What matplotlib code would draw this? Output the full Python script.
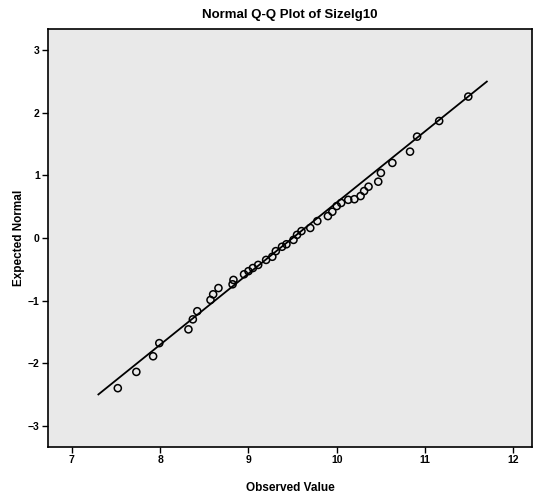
import numpy as np
import matplotlib
matplotlib.use("Agg")
import matplotlib.pyplot as plt

observed = [7.52, 7.73, 7.92, 7.99, 8.32, 8.37, 8.42, 8.57, 8.60, 8.66,
            8.82, 8.83, 8.95, 9.00, 9.05, 9.11, 9.20, 9.27, 9.31, 9.38,
            9.43, 9.51, 9.55, 9.60, 9.70, 9.78, 9.90, 9.95, 10.00, 10.05,
            10.13, 10.20, 10.27, 10.31, 10.36, 10.47, 10.50, 10.63, 10.83, 10.91,
            11.16, 11.49]
expected = [-2.40, -2.14, -1.89, -1.68, -1.46, -1.30, -1.17, -0.99, -0.90, -0.80,
            -0.74, -0.67, -0.58, -0.53, -0.48, -0.43, -0.35, -0.30, -0.21, -0.14,
            -0.10, -0.03, 0.05, 0.11, 0.16, 0.27, 0.35, 0.42, 0.51, 0.56,
            0.61, 0.62, 0.67, 0.75, 0.82, 0.90, 1.04, 1.20, 1.38, 1.62,
            1.87, 2.26]

# reference line (normal fit)
line_mean = 9.5
line_sd = 0.88
line_x = [7.30, 11.70]

xticks = [7, 8, 9, 10, 11, 12]
yticks = [-3, -2, -1, 0, 1, 2, 3]

plt.rcParams['font.family'] = ['Liberation Sans', 'DejaVu Sans']

fig = plt.figure(figsize=(5.34, 5.0), dpi=100)
ax = fig.add_axes([0.090, 0.106, 0.906, 0.836])
ax.set_facecolor('#e9e9e9')

lx = np.array(line_x)
ax.plot(lx, (lx - line_mean) / line_sd, color='black', lw=1.3, zorder=2)
ax.scatter(observed, expected, s=26, facecolors='none', edgecolors='black',
           linewidths=1.1, zorder=3)

ax.set_xlim(6.73, 12.21)
ax.set_ylim(-3.34, 3.34)
ax.set_xticks(xticks)
ax.set_yticks(yticks)
ax.tick_params(axis='both', direction='out', length=4, width=1, labelsize=7.5, pad=2)
for lab in ax.get_xticklabels() + ax.get_yticklabels():
    lab.set_fontweight('bold')

for s in ax.spines.values():
    s.set_linewidth(1.2)

ax.set_title('Normal Q-Q Plot of Sizelg10', fontsize=9.5, fontweight='bold', pad=8)
ax.set_xlabel('Observed Value', fontsize=8.5, fontweight='bold', labelpad=12)
ax.set_ylabel('Expected Normal', fontsize=8.5, fontweight='bold', labelpad=2)

fig.savefig('out.png', dpi=100, facecolor='white')
